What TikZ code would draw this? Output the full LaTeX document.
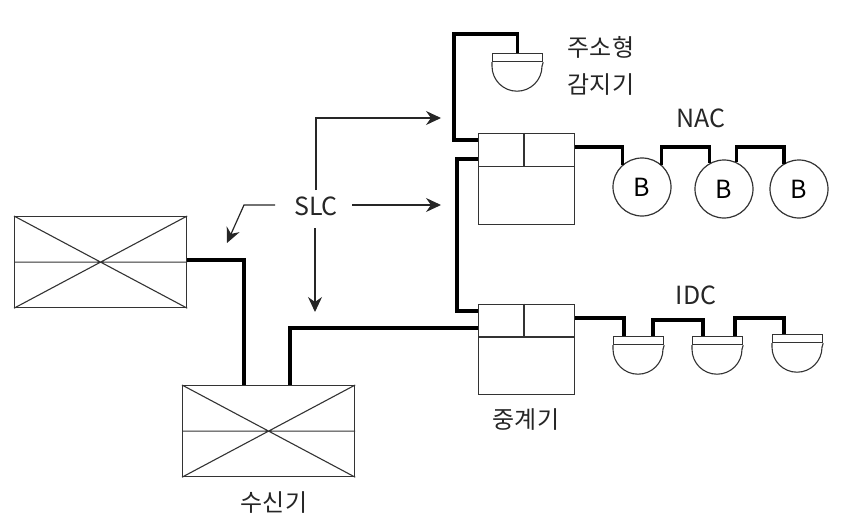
\documentclass[tikz,border=0pt]{standalone}
\usepackage{fontspec}
\setmainfont{Noto Sans CJK KR}[Scale=1]
\usetikzlibrary{arrows.meta}
\definecolor{thin}{HTML}{333333}
\tikzset{
  panel/.style={draw=thin,line width=1.2pt,minimum width=172pt,minimum height=91pt,inner sep=0pt},
  relay/.style={draw=thin,line width=1.2pt,minimum width=96pt,minimum height=90.5pt,inner sep=0pt},
  inner/.style={draw=thin,line width=1.1pt},
  bell/.style={circle,draw=thin,line width=1.2pt,minimum size=58pt,inner sep=0pt,font=\fontsize{25}{27}\selectfont},
  dethead/.style={draw=thin,line width=1.2pt,minimum width=50pt,minimum height=8pt,inner sep=0pt},
  wire/.style={draw=black,line width=3.6pt,line join=miter},
  lead/.style={draw=black!85,line width=1.2pt,-{Stealth[length=15pt,width=14pt,inset=5pt]}},
  lbl/.style={inner sep=0pt,font=\fontsize{24}{28}\selectfont,text=black!85}
}
\newcommand{\detector}[3]{%
  \node[dethead,anchor=north west] (#1) at (#2,#3) {};
  \draw[inner] (#1.south west) -- ++(0,-4pt) arc[start angle=180,end angle=360,radius=25pt] -- (#1.south east);
}
\newcommand{\crossbox}[1]{%
  \draw[inner] (#1.north west) -- (#1.south east) (#1.south west) -- (#1.north east) (#1.west) -- (#1.east);
}
\newcommand{\relaybox}[1]{%
  \draw[inner] ([yshift=-33.5pt]#1.north west) -- ([yshift=-33.5pt]#1.north east);
  \draw[inner] ([xshift=46pt]#1.north west) -- ([xshift=46pt,yshift=-33.5pt]#1.north west);
}
\begin{document}
\begin{tikzpicture}[x=1pt,y=-1pt]
\useasboundingbox (0,0) rectangle (851,516);
% panels
\node[panel,anchor=north west] (pa) at (14,216) {};
\node[panel,anchor=north west] (pb) at (182,385) {};
\crossbox{pa}\crossbox{pb}
% relays
\node[relay,anchor=north west] (ra) at (478,133) {};
\node[relay,anchor=north west] (rb) at (478,303.5) {};
\relaybox{ra}\relaybox{rb}
% detectors
\detector{dt}{492}{53}
\detector{da}{613}{336}
\detector{db}{692}{336}
\detector{dc}{772}{334}
% bells
\node[bell] (ba) at (642,187) {B};
\node[bell] (bb) at (724,189) {B};
\node[bell] (bc) at (799,189) {B};
% labels
\node[lbl,font=\fontsize{25}{28}\selectfont] (slc) at (316,206) {SLC};
\node[lbl] (t1) at (601,47) {주소형};
\node[lbl] (t2) at (601,85) {감지기};
\node[lbl,font=\fontsize{25}{28}\selectfont] (nac) at (701,118) {NAC};
\node[lbl,font=\fontsize{25}{28}\selectfont] (idc) at (696,295) {IDC};
\node[lbl] (t3) at (526,420) {중계기};
\node[lbl] (t4) at (274,503) {수신기};
% helper coordinates
\coordinate (c1) at (454,140);
\coordinate (c2) at (454,34);
\coordinate (c3) at (457,159);
\coordinate (c4) at (457,311);
\coordinate (c5) at (290,328);
\coordinate (c6) at (244,260);
\coordinate (ny) at (0,147);
\coordinate (iya) at (0,318);
\coordinate (iyb) at (0,320);
\coordinate (ix) at (624,0);
\coordinate (a1) at (316,190);
\coordinate (a2) at (316,118);
\coordinate (a3) at (441,118);
\coordinate (a4) at (352,205);
\coordinate (a5) at (441,205);
\coordinate (a6) at (315,228);
\coordinate (a7) at (315,312);
\coordinate (a8) at (275,205);
\coordinate (a9) at (244,205);
\coordinate (a10) at (227,243);
% wires
\draw[wire] (ra.west |- c1) -- (c1) -- (c2) -- (dt.north |- c2) -- (dt.north);
\draw[wire] (ra.west |- c3) -- (c3) -- (c4) -- (rb.west |- c4);
\draw[wire] (rb.west |- c5) -- (c5) -- (c5 |- pb.north);
\draw[wire] (pa.east |- c6) -- (c6) -- (c6 |- pb.north);
\draw[wire] (ra.east |- ny) -- (ba.131 |- ny) -- (ba.131);
\draw[wire] (ba.49) -- (ba.49 |- ny) -- (bb.119 |- ny) -- (bb.119);
\draw[wire] (bb.65) -- (bb.65 |- ny) -- (bc.121 |- ny) -- (bc.121);
\draw[wire] (rb.east |- iya) -- (ix |- iya) -- (ix |- da.north);
\draw[wire] ([xshift=-11pt]da.north east) -- ([xshift=-11pt]da.north east |- iyb) -- ([xshift=11pt]db.north west |- iyb) -- ([xshift=11pt]db.north west);
\draw[wire] ([xshift=-8pt]db.north east) -- ([xshift=-8pt]db.north east |- iya) -- ([xshift=12pt]dc.north west |- iya) -- ([xshift=12pt]dc.north west);
% SLC leaders
\draw[lead] (a1) -- (a2) -- (a3);
\draw[lead] (a4) -- (a5);
\draw[lead] (a6) -- (a7);
\draw[lead] (a8) -- (a9) -- (a10);
\end{tikzpicture}
\end{document}
